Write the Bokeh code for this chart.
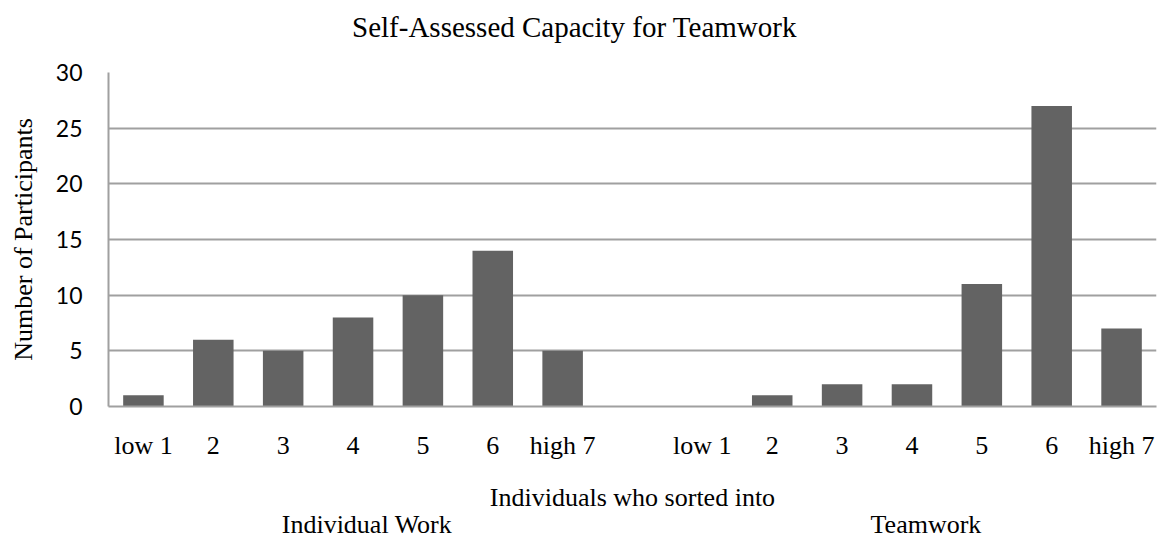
from bokeh.plotting import figure
from bokeh.models import FixedTicker, LinearAxis, Range1d
from bokeh.embed import file_html
from bokeh.resources import INLINE

# ---- data ----
title_text = "Self-Assessed Capacity for Teamwork"
groups = ["Individual Work", "Teamwork"]
categories = ["low 1", "2", "3", "4", "5", "6", "high 7"]
individual_work = [1, 6, 5, 8, 10, 14, 5]
teamwork = [0, 1, 2, 2, 11, 27, 7]
y_ticks = [0, 5, 10, 15, 20, 25, 30]
x_title = "Individuals who sorted into"
y_title = "Number of Participants"

SERIF = "Liberation Serif"
BAR = "#636363"
GRID = "#a0a0a0"

n = len(categories)
GAP = 1  # one empty slot between the two groups
xs = list(range(n)) + [n + GAP + i for i in range(n)]
values = individual_work + teamwork
labels = categories + categories
total = 2 * n + GAP
mid = (total - 1) / 2

p = figure(
    width=1164, height=541,
    x_range=Range1d(-0.5, total - 0.5),
    y_range=Range1d(0, max(y_ticks)),
    output_backend="svg", toolbar_location=None,
    min_border_left=108, min_border_right=8, min_border_bottom=20, min_border_top=72,
)
p.outline_line_color = None

p.vbar(x=xs, top=values, width=0.58, fill_color=BAR, line_color=None)

# y axis
p.yaxis.ticker = FixedTicker(ticks=y_ticks)
p.yaxis.minor_tick_line_color = None
p.yaxis.major_tick_line_color = None
p.yaxis.major_tick_out = 0
p.yaxis.major_tick_in = 0
p.yaxis.axis_line_color = GRID
p.yaxis.axis_line_width = 2
p.yaxis.major_label_text_font = "Lato"
p.yaxis.major_label_text_font_size = "23px"
p.yaxis.major_label_text_color = "black"
p.yaxis.major_label_standoff = 26
p.yaxis.axis_label = y_title
p.yaxis.axis_label_text_font = SERIF
p.yaxis.axis_label_text_font_size = "26px"
p.yaxis.axis_label_text_font_style = "normal"
p.yaxis.axis_label_text_color = "black"
p.yaxis.axis_label_standoff = 15

p.ygrid.ticker = FixedTicker(ticks=y_ticks)
p.ygrid.grid_line_color = GRID
p.ygrid.grid_line_width = 2
p.xgrid.grid_line_color = None


def style_x(ax, standoff, size="26px"):
    ax.axis_line_color = None
    ax.major_tick_line_color = None
    ax.minor_tick_line_color = None
    ax.major_tick_out = 0
    ax.major_tick_in = 0
    ax.major_label_text_font = SERIF
    ax.major_label_text_font_size = size
    ax.major_label_text_color = "black"
    ax.major_label_standoff = standoff
    ax.major_label_orientation = "horizontal"


# category labels
xa = p.xaxis[0]
style_x(xa, 24)
xa.axis_line_color = GRID
xa.axis_line_width = 2
xa.ticker = FixedTicker(ticks=xs)
xa.major_label_overrides = {x: lab for x, lab in zip(xs, labels)}

# axis title line and group names (second line of the same axis)
group_centers = [(n - 1) / 2 + 0.2, n + GAP + (n - 1) / 2 + 0.2]
ax2 = LinearAxis(ticker=FixedTicker(ticks=[mid] + group_centers))
style_x(ax2, 20)
ax2.major_label_text_line_height = 0.94
ax2.major_label_overrides = {mid: x_title, **{c: "\n" + g for c, g in zip(group_centers, groups)}}
p.add_layout(ax2, "below")

# chart title, set above the frame
title_x = mid - 0.83
tax = LinearAxis(ticker=FixedTicker(ticks=[title_x]))
style_x(tax, 30, "29px")
tax.major_label_overrides = {title_x: title_text}
p.add_layout(tax, "above")

open("out.html", "w").write(file_html(p, INLINE))
